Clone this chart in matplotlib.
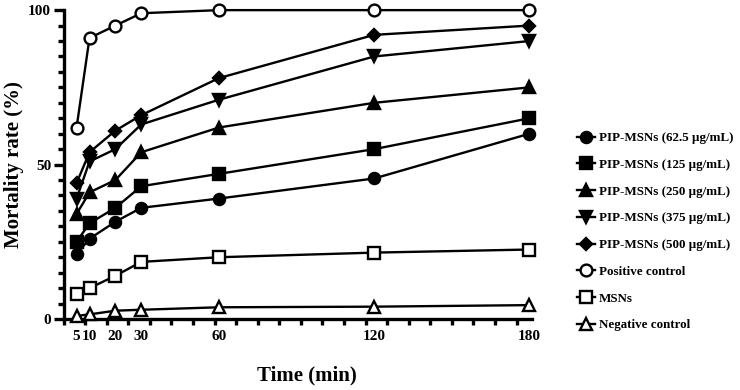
import matplotlib
matplotlib.use("Agg")
import matplotlib.pyplot as plt
from matplotlib.ticker import MultipleLocator

plt.rcParams['font.family'] = ['Liberation Serif', 'DejaVu Serif']
plt.rcParams['font.weight'] = 'bold'

# time points (min)
times = [5, 10, 20, 30, 60, 120, 180]

# mortality rate (%)
pip_62 = [21, 26, 31.5, 36, 39, 45.5, 60]
pip_125 = [25, 31, 36, 43, 47, 55, 65]
pip_250 = [34, 41, 45, 54, 62, 70, 75]
pip_375 = [39, 51, 55, 63, 71, 85, 90]
pip_500 = [44, 54, 61, 66, 78, 92, 95]
positive = [62, 91, 95, 99, 100, 100, 100]
msns = [8, 10, 14, 18.5, 20, 21.5, 22.5]
negative = [1, 1.5, 2.7, 3, 3.8, 4, 4.5]

series = [
    (pip_62, "PIP-MSNs (62.5 µg/mL)", 'o', 'black', 8),
    (pip_125, "PIP-MSNs (125 µg/mL)", 's', 'black', 8),
    (pip_250, "PIP-MSNs (250 µg/mL)", '^', 'black', 8.5),
    (pip_375, "PIP-MSNs (375 µg/mL)", 'v', 'black', 8.5),
    (pip_500, "PIP-MSNs (500 µg/mL)", 'D', 'black', 6.5),
    (positive, "Positive control", 'o', 'white', 8.5),
    (msns, "MSNs", 's', 'white', 8.5),
    (negative, "Negative control", '^', 'white', 9),
]

fig = plt.figure(figsize=(7.4, 3.9), dpi=100)
ax = fig.add_axes([0.086, 0.182, 0.633, 0.792])

for vals, label, mk, face, ms in series:
    ax.plot(times, vals, color='black', lw=1.7, marker=mk, markersize=ms,
            markerfacecolor=face, markeredgecolor='black', markeredgewidth=1.7,
            label=label, clip_on=False, zorder=3)

ax.set_xlim(0, 181)
ax.set_ylim(0, 100)
ax.set_xticks(times)
ax.set_xticklabels([str(t) for t in times])
ax.xaxis.set_minor_locator(MultipleLocator(25 / 3))
ax.set_yticks([0, 50, 100])
ax.yaxis.set_minor_locator(MultipleLocator(5))

for side in ['top', 'right']:
    ax.spines[side].set_visible(False)
for side in ['left', 'bottom']:
    ax.spines[side].set_linewidth(2.4)

ax.tick_params(axis='x', which='major', length=0, pad=8, labelsize=11)
ax.tick_params(axis='x', which='minor', length=4, width=2.4)
ax.tick_params(axis='y', which='major', length=7, width=2.4, labelsize=11, pad=2)
ax.tick_params(axis='y', which='minor', length=4, width=2.4)
for lbl in ax.get_xticklabels() + ax.get_yticklabels():
    lbl.set_fontweight('bold')

ax.set_xlabel("Time (min)", fontsize=15, fontweight='bold')
ax.xaxis.set_label_coords(0.52, -0.15)
ax.set_ylabel("Mortality rate (%)", fontsize=15, fontweight='bold')
ax.yaxis.set_label_coords(-0.085, 0.5)

fig.legend(loc='upper left', bbox_to_anchor=(0.772, 0.675), frameon=False,
           prop={'size': 9.4, 'weight': 'bold'}, handlelength=1.4,
           handletextpad=0.3, labelspacing=1.12, borderaxespad=0)

fig.savefig("out.png", dpi=100)
